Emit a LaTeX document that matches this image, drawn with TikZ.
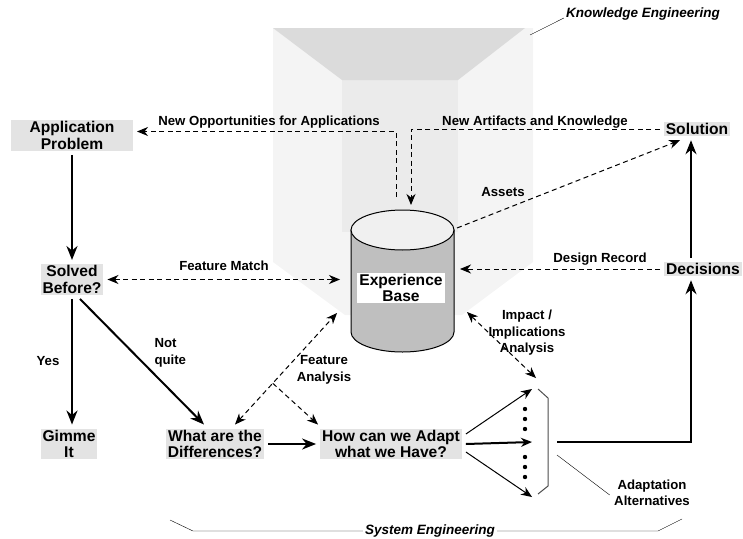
\documentclass[tikz,border=0pt]{standalone}
\usepackage{fontspec}
\setmainfont{Liberation Sans}
\usepackage{tikz}
\usetikzlibrary{arrows.meta,calc}

\begin{document}
\begin{tikzpicture}[x=1pt,y=-1pt,
  box/.style={fill=gray!22, font=\fontsize{15.6}{16.5}\selectfont\bfseries, align=center, inner xsep=2pt, inner ysep=1.5pt, outer sep=4pt},
  lbl/.style={font=\fontsize{13.2}{16.5}\selectfont\bfseries, align=center},
  ilbl/.style={font=\fontsize{13.5}{16}\selectfont\bfseries\itshape, inner sep=2pt},
  solidar/.style={line width=2pt, -{Stealth[length=14pt,width=11pt,inset=4.5pt]}},
  dashar/.style={line width=1pt, dash pattern=on 5pt off 3.5pt},
  tip/.style={-{Stealth[length=11pt,width=9pt,inset=3.5pt]}},
  dtip/.style={{Stealth[length=11pt,width=9pt,inset=3.5pt]}-{Stealth[length=11pt,width=9pt,inset=3.5pt]}}]
\useasboundingbox (0,0) rectangle (743,538);
\fill[gray!9] (273,28) -- (533,28) -- (533,262) -- (462,315) -- (345,315) -- (273,262) -- cycle;
\fill[gray!16] (342,80) rectangle (458,232);
\fill[gray!28] (273,28) -- (525,28) -- (458,80) -- (342,80) -- cycle;
\filldraw[fill=gray!50, line width=1pt] (351,230) -- (351,332) arc[start angle=180, end angle=360, x radius=51.5pt, y radius=20pt] -- (454,230) -- cycle;
\filldraw[fill=gray!12, line width=1pt] (402.5,230) ellipse [x radius=51.5pt, y radius=20pt];
\node[fill=white, font=\fontsize{15.6}{16.5}\selectfont\bfseries, align=center, inner sep=1pt, minimum width=88pt] (eb) at (401,288) {Experience\\Base};

\node[box, minimum width=122pt] (app) at (72,135.5) {Application\\Problem};
\node[box] (sb) at (72,279.5) {Solved\\Before?};
\node[box] (gi) at (69,444) {Gimme\\It};
\node[box] (dif) at (215,444) {What are the\\Differences?};
\node[box] (ad) at (391,444) {How can we Adapt\\what we Have?};
\node[box] (sol) at (697,129) {Solution};
\node[box] (dec) at (703,269) {Decisions};

\coordinate (ebw) at (340,277);
\coordinate (ebe) at (460,269);
\coordinate (ebne) at (457,228);
\coordinate (ebsw) at (337,313);
\coordinate (ebse) at (467,312);
\coordinate (ebt1) at (396,197);
\coordinate (ebt2) at (411,205);
\coordinate (alttop) at (536,378);
\coordinate (alt1) at (532,389);
\coordinate (alt2) at (532,442);
\coordinate (alt3) at (532,497);
\coordinate (altout) at (557,442);
\coordinate (rail) at (691,0);
\coordinate (brk) at (557,455);
\coordinate (kelead) at (530,35);

\draw[solidar] (app.south) -- (sb.north);
\draw[solidar] (sb.south) -- (sb.south |- gi.north);
\draw[solidar] ([xshift=8pt]sb.south) -- ([xshift=-11pt]dif.north);
\draw[solidar] (dif.east) -- (ad.west);
\draw[line width=1pt, tip] ([yshift=10pt]ad.east) -- (alt1);
\draw[line width=2pt, tip] (ad.east) -- (alt2);
\draw[line width=1pt, tip] ([yshift=-8pt]ad.east) -- (alt3);
\draw[solidar] (altout) -| (dec.south -| rail);
\draw[solidar] (dec.north -| rail) -- (sol.south -| rail);

\draw[dashar, dtip] (sb.east) -- (sb.east -| ebw);
\draw[dashar, tip] (ebt1) |- ([yshift=4pt]app.east);
\draw[dashar, tip] (sol.west) -| (ebt2);
\draw[dashar, tip] (ebne) -- ([xshift=-17pt]sol.south);
\draw[dashar, tip] (dec.west) -- (ebe);
\draw[dashar, dtip] (ebse) -- (alttop);
\draw[dashar, dtip] ([xshift=20pt]dif.north) -- (ebsw);
\coordinate (fork) at ($([xshift=20pt]dif.north)!0.37!(ebsw)$);
\draw[dashar, tip] (fork) -- ([xshift=-73pt]ad.north);

\foreach \y in {409,419,429,457,467,477} \fill (525,\y) circle (2.2pt);
\draw[gray!60!black, line width=1pt] (538,389) -- (548,398) -- (548,486) -- (538,494);

\node[lbl] (fm) at (224,266) {Feature Match};
\node[lbl] (opp) at (269,122) {New Opportunities for Applications};
\node[lbl] (art) at (535,122) {New Artifacts and Knowledge};
\node[lbl] (ast) at (503,192) {Assets};
\node[lbl] (dr) at (600,259) {Design Record};
\node[lbl] (imp) at (527,333) {Impact /\\Implications\\Analysis};
\node[lbl] (fa) at (324,370) {Feature\\Analysis};
\node[lbl] (yes) at (48,361) {Yes};
\node[lbl, align=left, anchor=west] (nq) at (151,353) {Not\\quite};
\node[lbl] (altl) at (652,493) {Adaptation\\Alternatives};
\node[ilbl] (se) at (430,531) {System Engineering};
\node[ilbl] (ke) at (643,14) {Knowledge Engineering};

\draw (brk) -- ([xshift=-1pt,yshift=-2pt]altl.west);
\draw (170,520) -- (193,531) -- (se.west);
\draw (se.east) -- (658,531) -- (682,519);
\draw (kelead) -- ([yshift=-4pt]ke.west);
\end{tikzpicture}
\end{document}
